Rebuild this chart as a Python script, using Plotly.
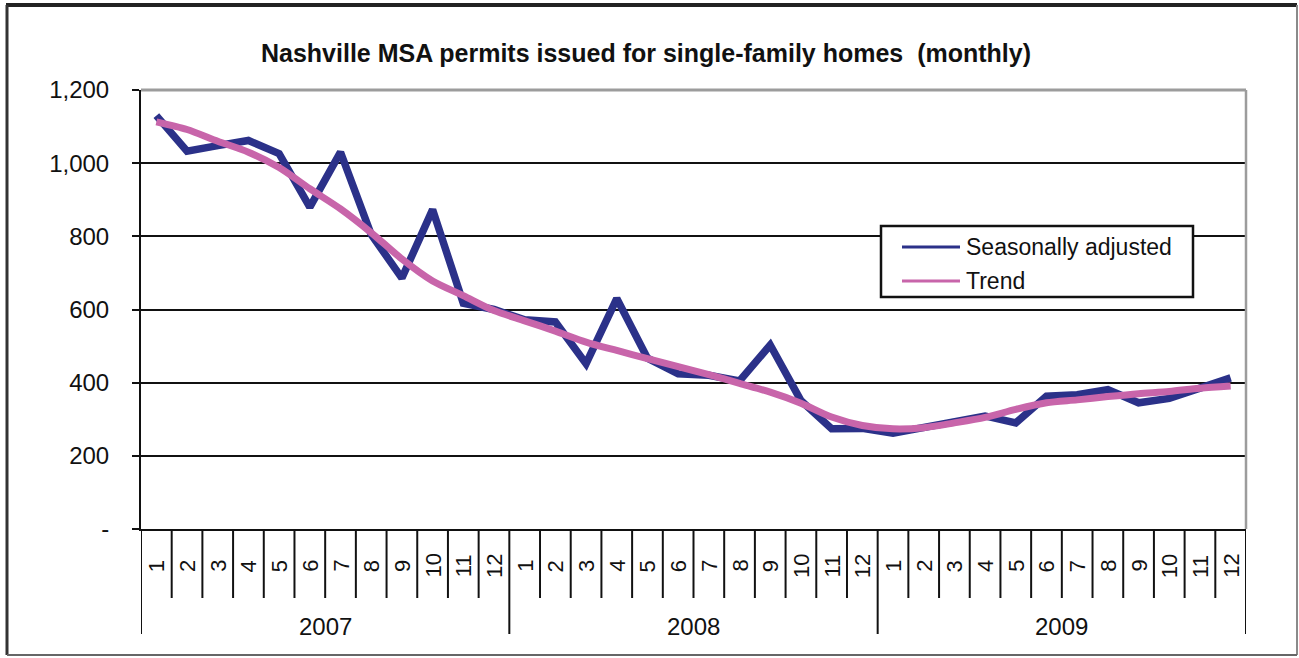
import plotly.graph_objects as go

# ---- data -------------------------------------------------------------
years = ["2007", "2008", "2009"]
months = [str(m) for m in range(1, 13)]

seasonally_adjusted = [
    1130, 1033, 1048, 1062, 1026, 880, 1030, 805, 686, 873, 617, 600,
    572, 566, 452, 630, 467, 424, 420, 405, 503, 351, 274, 275,
    262, 278, 295, 309, 290, 363, 367, 381, 345, 357, 385, 413,
]
trend = [
    1113, 1092, 1060, 1030, 988, 930, 875, 810, 738, 678, 638, 597,
    569, 541, 511, 488, 466, 444, 422, 398, 374, 344, 306, 283,
    274, 277, 290, 305, 327, 345, 353, 362, 370, 376, 385, 391,
]

y_tick_values = [0, 200, 400, 600, 800, 1000, 1200]
y_tick_labels = ["-", "200", "400", "600", "800", "1,000", "1,200"]

series_names = ["Seasonally adjusted", "Trend"]
BLUE = "#2b3189"
PINK = "#c865aa"
FONT = "Liberation Sans, Arial, sans-serif"

# ---- geometry (pixels) -------------------------------------------------
W, H = 1299, 658
PL, PR, PT, PB = 141, 1246, 90, 529   # plot area edges


def px(xp):
    return (xp - PL) / (PR - PL)


def py(yp):
    return (PB - yp) / (PB - PT)


n = len(seasonally_adjusted)
idx = list(range(n))

fig = go.Figure()
fig.add_trace(go.Scatter(
    x=idx, y=seasonally_adjusted, mode="lines", name=series_names[0],
    line=dict(color=BLUE, width=7.5), showlegend=False,
))
fig.add_trace(go.Scatter(
    x=idx, y=trend, mode="lines", name=series_names[1],
    line=dict(color=PINK, width=7, shape="spline", smoothing=0.8),
    showlegend=False,
))

shapes = []
annotations = []

# category dividers below the axis; year boundaries run longer
for k in range(n + 1):
    long_tick = (k % 12 == 0)
    shapes.append(dict(
        type="line", xref="x", yref="paper",
        x0=k - 0.5, x1=k - 0.5, y0=py(PB), y1=py(634 if long_tick else 598),
        line=dict(color="#111", width=2),
    ))

# month labels (rotated) and year labels
for i in idx:
    annotations.append(dict(
        x=i, xref="x", y=py(566), yref="paper", text=months[i % 12],
        textangle=-90, showarrow=False, xanchor="center", yanchor="middle",
        font=dict(family=FONT, size=22, color="#111"),
    ))
for j, yr in enumerate(years):
    annotations.append(dict(
        x=12 * j + 5.5, xref="x", y=py(626), yref="paper", text=yr,
        showarrow=False, xanchor="center", yanchor="middle",
        font=dict(family=FONT, size=24, color="#111"),
    ))

# gray top / right edges of the plot area
shapes.append(dict(type="line", xref="paper", yref="paper",
                   x0=0, x1=1, y0=1, y1=1,
                   line=dict(color="#9c9c9c", width=3)))
shapes.append(dict(type="line", xref="paper", yref="paper",
                   x0=1, x1=1, y0=0, y1=1,
                   line=dict(color="#9c9c9c", width=2.5)))

# outer chart frame
shapes.append(dict(type="line", xref="paper", yref="paper",
                   x0=px(6), x1=px(1297), y0=py(5), y1=py(5),
                   line=dict(color="#222", width=4)))
shapes.append(dict(type="line", xref="paper", yref="paper",
                   x0=px(7), x1=px(7), y0=py(5), y1=py(655),
                   line=dict(color="#333", width=3)))
shapes.append(dict(type="line", xref="paper", yref="paper",
                   x0=px(1297), x1=px(1297), y0=py(5), y1=py(655),
                   line=dict(color="#8a8a8a", width=2)))
shapes.append(dict(type="line", xref="paper", yref="paper",
                   x0=px(7), x1=px(1297), y0=py(655), y1=py(655),
                   line=dict(color="#666", width=2)))

# legend box
shapes.append(dict(type="rect", xref="paper", yref="paper",
                   x0=px(881), x1=px(1193), y0=py(226), y1=py(297),
                   fillcolor="white", line=dict(color="#111", width=2.5),
                   layer="above"))
for name, color, yc in [(series_names[0], BLUE, 247), (series_names[1], PINK, 281)]:
    shapes.append(dict(type="line", xref="paper", yref="paper",
                       x0=px(902), x1=px(960), y0=py(yc), y1=py(yc),
                       line=dict(color=color, width=3), layer="above"))
    annotations.append(dict(
        x=px(964), xref="paper", y=py(yc), yref="paper", text=name,
        showarrow=False, xanchor="left", yanchor="middle",
        font=dict(family=FONT, size=23, color="#111"),
    ))

fig.update_layout(
    width=W, height=H,
    margin=dict(l=PL, r=W - PR, t=PT, b=H - PB),
    paper_bgcolor="white", plot_bgcolor="white",
    title=dict(
        text="<b>Nashville MSA permits issued for single-family homes  (monthly)</b>",
        x=px(646), xanchor="center", xref="paper",
        y=1 - 53 / H, yanchor="middle",
        font=dict(family=FONT, size=25, color="#111"),
    ),
    xaxis=dict(
        range=[-0.5, n - 0.5], showticklabels=False, showgrid=False,
        zeroline=False, showline=True, linecolor="#111", linewidth=2,
        fixedrange=True,
    ),
    yaxis=dict(
        range=[0, 1200], tickvals=y_tick_values, ticktext=y_tick_labels,
        ticks="outside", ticklen=7, tickwidth=2, tickcolor="#111",
        showline=True, linecolor="#111", linewidth=2,
        showgrid=True, gridcolor="#111", gridwidth=2, zeroline=False,
        ticklabelstandoff=18,
        tickfont=dict(family=FONT, size=24, color="#111"),
    ),
    shapes=shapes,
    annotations=annotations,
    showlegend=False,
)

fig.write_html("out.html")
